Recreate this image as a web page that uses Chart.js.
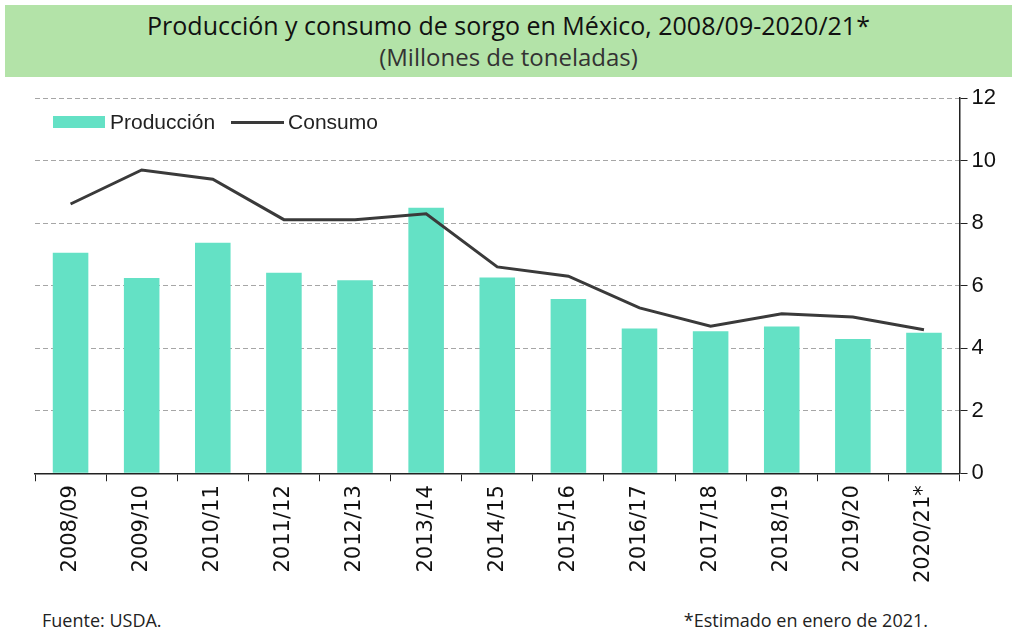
<!DOCTYPE html>
<html>
<head>
<meta charset="utf-8">
<script src="https://cdn.jsdelivr.net/npm/chart.js@4"></script>
<style>
  body { margin: 0; width: 1012px; height: 629px; background: #fff; position: relative; overflow: hidden; }
  #banner { position: absolute; left: 5px; top: 5px; width: 1007px; height: 72px; background: #b3e3a8; text-align: center; font-family: "Liberation Sans Narrow", "Open Sans", sans-serif; color: #111; }
  #banner .t { font-size: 25px; line-height: 34px; padding-top: 3px; }
  #banner .s { font-size: 24px; line-height: 30px; color: #333; }
  #wrap { position: absolute; left: 0; top: 80px; width: 1012px; height: 525px; }
  #legend { position: absolute; left: 53px; top: 110px; font-family: "Liberation Sans", sans-serif; font-size: 21px; color: #222; display: flex; align-items: center; }
  .sw-bar { width: 52px; height: 12px; background: #64e1c5; margin-right: 5px; }
  .sw-line { width: 53px; height: 3px; background: #3a3a3a; margin: 0 4px 0 16px; }
  .foot { position: absolute; top: 608px; font-family: "Liberation Sans Narrow", "Open Sans", sans-serif; font-size: 18px; color: #222; }
</style>
</head>
<body>
<div id="banner">
  <div class="t">Producción y consumo de sorgo en México, 2008/09-2020/21*</div>
  <div class="s">(Millones de toneladas)</div>
</div>
<div id="wrap"><canvas id="chart"></canvas></div>
<div id="legend"><div class="sw-bar"></div>Producción<div class="sw-line"></div>Consumo</div>
<div class="foot" style="left:42px">Fuente: USDA.</div>
<div class="foot" style="right:84px">*Estimado en enero de 2021.</div>
<script>
const seasons = ['2008/09', '2009/10', '2010/11', '2011/12', '2012/13', '2013/14', '2014/15',
  '2015/16', '2016/17', '2017/18', '2018/19', '2019/20', '2020/21*'];
const produccion = [7.05, 6.24, 7.37, 6.41, 6.17, 8.49, 6.26, 5.57, 4.63, 4.54, 4.69, 4.29, 4.49];
const consumo = [8.61, 9.70, 9.40, 8.11, 8.11, 8.30, 6.60, 6.30, 5.29, 4.70, 5.10, 5.00, 4.59];
const yTicks = [0, 2, 4, 6, 8, 10, 12];

const ctx = document.getElementById('chart').getContext('2d');
new Chart(ctx, {
  data: {
    labels: seasons,
    datasets: [
      {
        type: 'line',
        label: 'Consumo',
        data: consumo,
        borderColor: '#3a3a3a',
        borderWidth: 3,
        pointRadius: 0,
        tension: 0,
        order: 0,
      },
      {
        type: 'bar',
        label: 'Producción',
        data: produccion,
        backgroundColor: '#64e1c5',
        barPercentage: 0.5,
        categoryPercentage: 1,
        order: 1,
      },
    ],
  },
  options: {
    responsive: true,
    maintainAspectRatio: false,
    animation: false,
    layout: { padding: { left: 35, right: 12, top: 18, bottom: 18 } },
    plugins: { legend: { display: false }, tooltip: { enabled: false } },
    scales: {
      x: {
        offset: true,
        grid: { offset: true, drawOnChartArea: false, color: '#222', tickLength: 8 },
        border: { color: '#222', width: 1.5 },
        ticks: {
          maxRotation: 90,
          minRotation: 90,
          color: '#111',
          font: { family: 'DejaVu Sans', size: 21 },
          padding: 4,
        },
      },
      y: {
        position: 'right',
        min: 0,
        max: 12,
        afterBuildTicks: axis => { axis.ticks = yTicks.map(v => ({ value: v })); },
        grid: { color: '#a6a6a6', tickColor: '#222', tickLength: 8, tickBorderDash: [] },
        border: { color: '#222', width: 1.5, dash: [5, 3] },
        ticks: {
          color: '#111',
          font: { family: 'Liberation Sans', size: 22 },
          padding: 4,
        },
      },
    },
  },
});
</script>
</body>
</html>
